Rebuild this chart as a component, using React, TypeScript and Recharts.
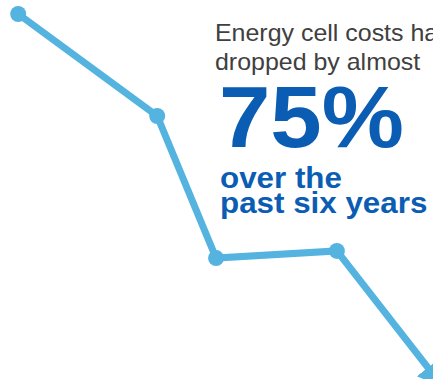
import React from 'react';
import { LineChart, Line, XAxis, YAxis } from 'recharts';

// positions along the timeline (0-100) and relative cost (0-100)
const xs = [4.2, 36.3, 49.9, 77.8, 99.1];
const costs = [96.3, 69.4, 31.9, 33.8, 2.6];

const headline = ['Energy cell costs have', 'dropped by almost'];
const bigFigure = '75%';
const subline = ['over the', 'past six years'];

const data = xs.map((x, i) => ({ x, cost: costs[i] }));

const W = 433;
const H = 379;
const LINE = '#55b3e0';
const BLUE = '#0b5db3';

function Dot(props: any) {
  const { cx, cy, index } = props;
  if (index === data.length - 1) return <g key={`d${index}`} />;
  return <circle key={`d${index}`} cx={cx} cy={cy} r={8} fill={LINE} />;
}

// the text in the original is a little wider than Liberation Sans
const stretch = (x0: number, k: number) => `translate(${x0},0) scale(${k},1) translate(${-x0},0)`;

export default function App() {
  return (
    <div style={{ position: 'absolute', left: 0, top: 0, width: W, height: H, overflow: 'hidden', background: '#fff' }}>
      <LineChart width={W} height={H} data={data} margin={{ top: 0, right: 0, bottom: 0, left: 0 }}>
        <defs>
          <marker id="arrowHead" markerUnits="userSpaceOnUse" markerWidth="40" markerHeight="40" refX="2" refY="14" orient="auto" viewBox="0 0 40 40">
            <path d="M0,0 L26,14 L0,28 Z" fill={LINE} />
          </marker>
        </defs>
        <XAxis dataKey="x" type="number" domain={[0, 100]} hide />
        <YAxis type="number" domain={[0, 100]} hide />
        <Line
          type="linear"
          dataKey="cost"
          stroke={LINE}
          strokeWidth={7}
          dot={<Dot />}
          activeDot={false}
          markerEnd="url(#arrowHead)"
          isAnimationActive={false}
        />
      </LineChart>
      <svg width={W} height={H} style={{ position: 'absolute', left: 0, top: 0, pointerEvents: 'none' }}>
        <g fontFamily="'Liberation Sans', Arial, sans-serif">
          <g transform={stretch(215, 1.04)}>
            {headline.map((t, i) => (
              <text key={t} x={215} y={41.5 + i * 28.5} fontSize={24} fill="#404040">{t}</text>
            ))}
          </g>
          <text x={219} y={147} fontSize={88} fontWeight="bold" fill={BLUE} transform={stretch(219, 1.05)}>{bigFigure}</text>
          <g transform={stretch(220, 1.045)}>
            {subline.map((t, i) => (
              <text key={t} x={220} y={188 + i * 25.5} fontSize={30} fontWeight="bold" fill={BLUE}>{t}</text>
            ))}
          </g>
        </g>
      </svg>
    </div>
  );
}
